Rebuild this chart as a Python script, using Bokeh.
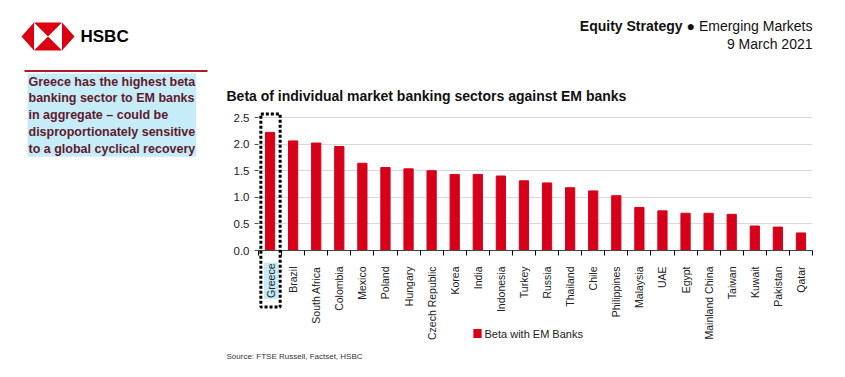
import math
from bokeh.plotting import figure
from bokeh.layouts import column, row
from bokeh.models import Range1d, FixedTicker, Label, PrintfTickFormatter
from bokeh.core.properties import value
from bokeh.embed import file_html
from bokeh.resources import INLINE

countries = ["Greece", "Brazil", "South Africa", "Colombia", "Mexico", "Poland", "Hungary",
             "Czech Republic", "Korea", "India", "Indonesia", "Turkey", "Russia", "Thailand",
             "Chile", "Philippines", "Malaysia", "UAE", "Egypt", "Mainland China", "Taiwan",
             "Kuwait", "Pakistan", "Qatar"]
beta = [2.22, 2.06, 2.02, 1.955, 1.64, 1.56, 1.535, 1.50, 1.43, 1.43, 1.40, 1.31, 1.27,
        1.18, 1.12, 1.03, 0.81, 0.745, 0.70, 0.70, 0.68, 0.46, 0.44, 0.33]
y_ticks = [0.0, 0.5, 1.0, 1.5, 2.0, 2.5]
series_name = "Beta with EM Banks"
highlight = "Greece"
sidebar_lines = ["Greece has the highest beta", "banking sector to EM banks",
                 "in aggregate \u2013 could be", "disproportionately sensitive",
                 "to a global cyclical recovery"]

RED = "#d7001a"
FONT = "Liberation Sans"
N = len(countries)
xs = list(range(N))
W, H = 845, 377
HEAD_H = 72

# ---------------- header ----------------
hd = figure(width=W, height=HEAD_H, output_backend="svg", toolbar_location=None,
            x_range=Range1d(0, W), y_range=Range1d(HEAD_H, 0),
            x_axis_type=None, y_axis_type=None, min_border=0)
hd.outline_line_color = None
hd.grid.visible = False
L, R, T, B = 33.5, 61.5, 22, 50
cy, cx = (T + B) / 2, (L + R) / 2
hd.patches(xs=[[21, L, L], [74, R, R], [L, R, cx], [L, R, cx]],
           ys=[[cy, T, B], [cy, T, B], [T, T, cy], [B, B, cy]],
           fill_color="#db0011", line_color=None)
hd.text(x=[80], y=[36], text=["HSBC"], text_font=value(FONT), text_font_style="bold",
        text_font_size="17px", text_color="#000000", text_baseline="middle")
hd.text(x=[812, 812], y=[25, 43], text=["\u25cf Emerging Markets", "9 March 2021"],
        text_font=value(FONT), text_font_size="14px", text_color="#111111",
        text_align="right", text_baseline="middle")
hd.text(x=[682], y=[25], text=["Equity Strategy"], text_font=value(FONT),
        text_font_style="bold", text_font_size="14px", text_color="#111111",
        text_align="right", text_baseline="middle")
hd.quad(left=[24], right=[207], top=[69.5], bottom=[72], fill_color="#b2182b", line_color=None)

# ---------------- chart ----------------
CH = H - HEAD_H
oy = HEAD_H
F_L, F_R, F_T, F_B = 258, 812, 112 - oy, 250 - oy
YPX = 133 / 2.5
Y_MAX = (F_B - F_T) / YPX

p = figure(width=W, height=CH, output_backend="svg", toolbar_location=None,
           x_range=Range1d(-0.5, N - 0.5), y_range=Range1d(0, Y_MAX),
           min_border_left=F_L, min_border_right=W - F_R,
           min_border_top=F_T, min_border_bottom=CH - F_B)
p.outline_line_color = None

bars = p.vbar(x=xs, top=beta, width=0.40, color=RED)

p.yaxis.ticker = FixedTicker(ticks=y_ticks)
p.yaxis.formatter = PrintfTickFormatter(format="%.1f")
p.yaxis.axis_line_color = None
p.yaxis.major_tick_out = 4
p.yaxis.major_tick_in = 0
p.yaxis.major_tick_line_color = "#555555"
p.yaxis.minor_tick_line_color = None
p.yaxis.major_label_standoff = 5
p.yaxis.major_label_text_font = FONT
p.yaxis.major_label_text_font_size = "11.5px"
p.yaxis.major_label_text_color = "#222222"
p.ygrid.grid_line_color = "#d9d9d9"
p.ygrid.ticker = FixedTicker(ticks=y_ticks)
p.xgrid.grid_line_color = None

p.xaxis.ticker = FixedTicker(ticks=xs, minor_ticks=[i - 0.5 for i in range(N + 1)])
p.xaxis.major_label_overrides = {i: ("" if c == highlight else c) for i, c in enumerate(countries)}
p.xaxis.major_label_orientation = math.pi / 2
p.xaxis.major_tick_out = 0
p.xaxis.major_tick_in = 0
p.xaxis.minor_tick_out = 5
p.xaxis.minor_tick_in = 0
p.xaxis.minor_tick_line_color = "black"
p.xaxis.axis_line_color = "#444444"
p.xaxis.major_label_standoff = 11
p.xaxis.major_label_text_font = FONT
p.xaxis.major_label_text_font_size = "10.5px"
p.xaxis.major_label_text_color = "#222222"

cu = dict(x_units="canvas", y_units="canvas")

# title (above panel)
p.add_layout(Label(x=226, y=95 - oy, text="Beta of individual market banking sectors against EM banks",
                   text_font=FONT, text_font_style="bold", text_font_size="14px",
                   text_color="#111111", text_baseline="middle", **cu), "above")
# legend swatch (above panel) and legend text (below panel)
p.add_layout(Label(x=477, y=333 - oy, text=" ", text_font_size="1px", text_align="center",
                   text_baseline="middle", background_fill_color=RED, padding=4, **cu), "above")
p.add_layout(Label(x=484, y=333 - oy, text=series_name, text_font=FONT,
                   text_font_size="11px", text_color="#222222", text_baseline="middle", **cu),
             "below")
# source (below panel)
p.add_layout(Label(x=226, y=356 - oy, text="Source: FTSE Russell, Factset, HSBC",
                   text_font=FONT, text_font_size="8px", text_color="#333333",
                   text_baseline="middle", **cu), "below")
# sidebar commentary (left panel)
p.add_layout(Label(x=27, y=73 - oy, text="\n".join(sidebar_lines), text_font=FONT,
                   text_font_style="bold", text_font_size="12.5px", text_color="#5e1a2c",
                   text_baseline="top", text_line_height=1.2,
                   background_fill_color="#c6ecf7", padding=1, **cu), "left")
# highlighted Greece label (left panel)
p.add_layout(Label(x=270.5, y=262 - oy, text=highlight, angle=math.pi / 2,
                   text_align="right", text_baseline="middle", text_font=FONT,
                   text_font_size="10.5px", text_color="#222222",
                   background_fill_color="#c6ecf7", padding=1, **cu), "left")
# dotted box around Greece (right panel)
p.add_layout(Label(x=270, y=210 - oy, text=" ", text_font_size="1px", text_align="center",
                   text_baseline="middle", background_fill_alpha=0,
                   border_line_color="black", border_line_width=3, border_line_dash="3 2",
                   padding=dict(left=10, right=9, top=96, bottom=96), **cu), "right")

layout = column(hd, row(p, spacing=0), spacing=0)
open("out.html", "w").write(file_html(layout, INLINE))
